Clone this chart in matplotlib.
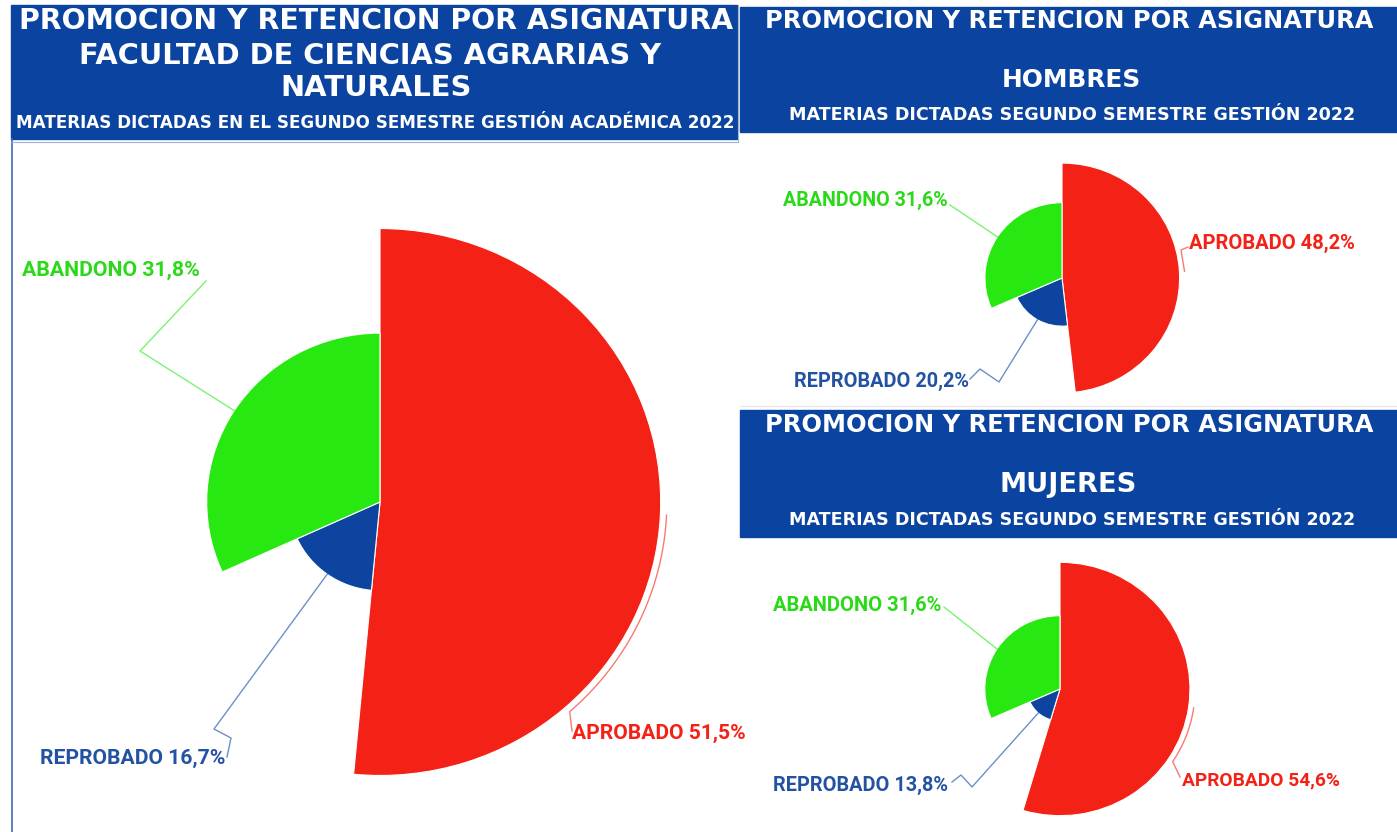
import numpy as np
import matplotlib.pyplot as plt
from matplotlib.patches import Wedge, Rectangle

# datos (porcentajes)
categorias = ['APROBADO', 'REPROBADO', 'ABANDONO']
total = [51.5, 16.7, 31.8]
hombres = [48.2, 20.2, 31.6]
mujeres = [54.6, 13.8, 31.6]

colores = ['#f42116', '#0c44a0', '#28e812']
colores_txt = ['#f42116', '#2452a3', '#2ad917']
azul = '#0b44a0'

W, H = 1397, 832
fig = plt.figure(figsize=(W / 100, H / 100), dpi=100)
bg = fig.add_axes([0, 0, 1, 1])
bg.set_xlim(0, W)
bg.set_ylim(H, 0)
bg.axis('off')
rend = fig.canvas.get_renderer()


def texto(x, y, s, ancho, **kw):
    t = bg.text(x, y, s, fontsize=10, ha='center', va='center', **kw)
    w = t.get_window_extent(renderer=rend).width
    t.set_fontsize(10 * ancho / w)
    return t


# cajas de titulo
bg.add_patch(Rectangle((11, 5), 726, 134, color=azul))
bg.add_patch(Rectangle((740, 7), 657, 125, color=azul))
bg.add_patch(Rectangle((740, 410), 657, 127, color=azul))
bg.plot([12, 12], [139, 832], color='#3d6bb3', lw=1.2)
bg.plot([12, 737], [142, 142], color='#9fb3d6', lw=0.8)
bg.plot([738, 738], [5, 142], color='#9fb3d6', lw=0.8)
bg.plot([740, 1397], [406, 406], color='#e8e8e8', lw=1)

tf = dict(color='white', fontweight='bold', family=['DejaVu Sans'])
texto(376, 21, 'PROMOCION Y RETENCION POR ASIGNATURA', 717, **tf)
texto(370, 56, 'FACULTAD DE CIENCIAS AGRARIAS Y', 585, **tf)
texto(376, 88, 'NATURALES', 192, **tf)
texto(375, 123, 'MATERIAS DICTADAS EN EL SEGUNDO SEMESTRE GESTIÓN ACADÉMICA 2022', 721, **tf)
texto(1069, 21, 'PROMOCION Y RETENCION POR ASIGNATURA', 608, **tf)
texto(1071, 80, 'HOMBRES', 140, **tf)
texto(1072, 115, 'MATERIAS DICTADAS SEGUNDO SEMESTRE GESTIÓN 2022', 565, **tf)
texto(1069, 425, 'PROMOCION Y RETENCION POR ASIGNATURA', 608, **tf)
texto(1068, 485, 'MUJERES', 137, **tf)
texto(1072, 520, 'MATERIAS DICTADAS SEGUNDO SEMESTRE GESTIÓN 2022', 565, **tf)


def rosa(valores, cx, cy, ex, ey, etiquetas, guias):
    half = 300
    ax = fig.add_axes([(cx - half) / W, (H - cy - half) / H, 2 * half / W, 2 * half / H])
    ax.set_xlim(-half / ex, half / ex)
    ax.set_ylim(-half / ey, half / ey)
    ax.axis('off')
    px = lambda x, y: ((x - cx) / ex, (cy - y) / ey)
    inicio = 0
    for i, v in enumerate(valores):
        ang = v * 3.6
        ax.add_patch(Wedge((0, 0), v, 90 - inicio - ang, 90 - inicio,
                           facecolor=colores[i], edgecolor='white', lw=0.8))
        medio = inicio + ang / 2
        inicio += ang
        # linea guia
        off, fin, pts = guias[i]
        r = v + off / ey
        a = np.radians(np.linspace(medio, fin if fin is not None else medio, 40))
        xs = list(r * np.sin(a))
        ys = list(r * np.cos(a))
        for p in pts:
            q = px(*p)
            xs.append(q[0])
            ys.append(q[1])
        ax.plot(xs, ys, color=colores[i], lw=1, alpha=0.6, clip_on=False)
        l, rr, y = etiquetas[i]
        s = f'{categorias[i]} {v:.1f}%'.replace('.', ',')
        texto((l + rr) / 2, y, s, rr - l, color=colores_txt[i],
              fontweight='bold', family=['Roboto', 'DejaVu Sans'])


rosa(total, 380, 502, 5.45, 5.31,
     [(572, 745, 733), (40, 226, 758), (22, 200, 270)],
     [(6, 138.6, [(572, 731)]),
      (0, None, [(214, 729), (231, 738), (227, 757)]),
      (0, None, [(140, 351), (206, 281)])])

rosa(hombres, 1062, 278, 2.44, 2.384,
     [(1189, 1355, 243), (795, 969, 381), (783, 948, 200)],
     [(5, None, [(1181, 250), (1188, 247)]),
      (0, None, [(999, 382), (980, 369), (970, 379)]),
      (0, None, [(950, 205)])])

rosa(mujeres, 1060, 689, 2.38, 2.32,
     [(1182, 1340, 780), (773, 948, 785), (773, 942, 605)],
     [(5, 123.5, [(1180, 777)]),
      (0, None, [(972, 787), (961, 775), (952, 782)]),
      (0, None, [(944, 607)])])

fig.savefig('out.png', dpi=100)
